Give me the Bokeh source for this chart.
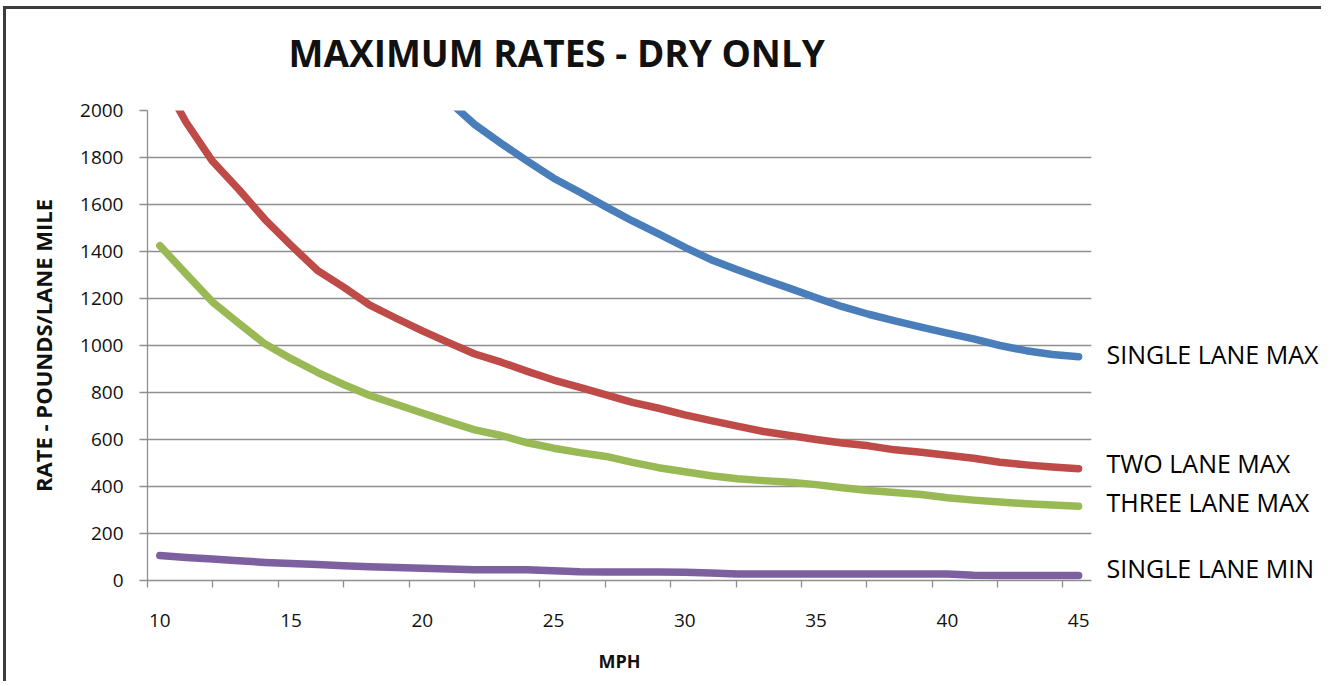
from bokeh.plotting import figure
from bokeh.models import Range1d, FixedTicker, LinearAxis
from bokeh.embed import file_html
from bokeh.resources import INLINE

# ---- data ----
mph = [10, 11, 12, 13, 14, 15, 16, 17, 18, 19, 20, 21, 22, 23, 24, 25, 26, 27,
       28, 29, 30, 31, 32, 33, 34, 35, 36, 37, 38, 39, 40, 41, 42, 43, 44, 45]

single_lane_max = [4300, 3900, 3580, 3300, 3070, 2870, 2690, 2530, 2390, 2260, 2150, 2040,
                   1940, 1860, 1785, 1712, 1652, 1590, 1530, 1475, 1418, 1365, 1322, 1282,
                   1243, 1203, 1165, 1133, 1105, 1078, 1053, 1028, 1000, 978, 962, 952]
two_lane_max = [2150, 1950, 1785, 1665, 1537, 1426, 1320, 1248, 1172, 1116, 1062, 1012,
                964, 929, 890, 853, 822, 790, 758, 733, 705, 680, 657, 634,
                617, 600, 585, 573, 556, 546, 533, 520, 503, 492, 483, 476]
three_lane_max = [1425, 1305, 1186, 1095, 1007, 944, 886, 834, 787, 750, 713, 676,
                  641, 617, 586, 563, 544, 528, 503, 480, 463, 446, 433, 425,
                  418, 408, 395, 383, 374, 366, 352, 342, 334, 327, 321, 316]
single_lane_min = [106, 98, 91, 84, 77, 72, 68, 63, 59, 55, 52, 49,
                   46, 46, 46, 41, 37, 36, 36, 36, 35, 32, 28, 28,
                   28, 28, 28, 28, 28, 28, 28, 22, 21, 21, 21, 21]

series_names = ["SINGLE LANE MAX", "TWO LANE MAX", "THREE LANE MAX", "SINGLE LANE MIN"]
series_values = [single_lane_max, two_lane_max, three_lane_max, single_lane_min]
series_colors = ["#4A7EBB", "#BE4B48", "#98B954", "#7D60A0"]
# height (in rate units) at which each series name is written on the right
series_label_at = [962, 502, 332, 55]

x_tick_labels = [10, 15, 20, 25, 30, 35, 40, 45]
x_tick_marks = [9.53, 12.02, 14.51, 17.0, 19.5, 21.99, 24.48, 26.97, 29.46,
                31.95, 34.44, 36.93, 39.42, 41.91, 44.4]
y_ticks = [0, 200, 400, 600, 800, 1000, 1200, 1400, 1600, 1800, 2000]

title_text = "MAXIMUM RATES - DRY ONLY"
title_at = 25.12   # mph position over which the title is centred
x_title = "MPH"
y_title = "RATE - POUNDS/LANE MILE"

# ---- layout constants ----
W, H = 1318, 675
FONT = "Open Sans"
GRID = "#8f8f8f"
TXT = "#111111"

p = figure(width=W, height=H, x_range=Range1d(9.53, 45.49), y_range=Range1d(0, 2000),
           output_backend="svg", toolbar_location=None,
           min_border_left=141, min_border_right=233, min_border_top=101,
           min_border_bottom=104)
p.styles = {"border-left": "3px solid #3c3c3c", "border-top": "3px solid #3c3c3c",
            "margin-left": "3px", "margin-top": "6px",
            "margin-right": "0px", "margin-bottom": "0px"}
p.background_fill_color = "white"
p.border_fill_color = "white"
p.outline_line_color = None

# title, written as the single label of an invisible top axis
title_axis = LinearAxis(ticker=FixedTicker(ticks=[title_at]),
                        major_label_overrides={title_at: title_text})
title_axis.axis_line_color = None
title_axis.major_tick_line_color = None
title_axis.minor_tick_line_color = None
title_axis.major_tick_out = 0
title_axis.major_tick_in = 0
title_axis.major_label_standoff = 33
title_axis.major_label_text_font = FONT
title_axis.major_label_text_font_style = "bold"
title_axis.major_label_text_font_size = "37px"
title_axis.major_label_text_color = TXT
p.add_layout(title_axis, "above")

# grid
p.xgrid.grid_line_color = None
p.ygrid.grid_line_color = GRID
p.ygrid.grid_line_width = 1.3
p.ygrid.ticker = FixedTicker(ticks=y_ticks)

# y axis
p.yaxis.ticker = FixedTicker(ticks=y_ticks)
p.yaxis.axis_line_color = GRID
p.yaxis.axis_line_width = 1.3
p.yaxis.major_tick_line_color = GRID
p.yaxis.major_tick_line_width = 1.3
p.yaxis.major_tick_out = 8
p.yaxis.major_tick_in = 0
p.yaxis.minor_tick_line_color = None
p.yaxis.major_label_standoff = 16
p.yaxis.major_label_text_font = FONT
p.yaxis.major_label_text_font_size = "19px"
p.yaxis.major_label_text_color = TXT
p.yaxis.axis_label = y_title
p.yaxis.axis_label_text_font = FONT
p.yaxis.axis_label_text_font_style = "bold"
p.yaxis.axis_label_text_font_size = "22px"
p.yaxis.axis_label_text_color = TXT
p.yaxis.axis_label_standoff = 19

# x axis (the first/bottom one)
xa = p.below[0]
xa.ticker = FixedTicker(ticks=x_tick_labels, minor_ticks=x_tick_marks)
xa.axis_line_color = GRID
xa.axis_line_width = 1.3
xa.major_tick_line_color = None
xa.minor_tick_line_color = GRID
xa.minor_tick_line_width = 1.3
xa.minor_tick_out = 7
xa.minor_tick_in = 0
xa.major_tick_out = 7
xa.major_tick_in = 0
xa.major_label_standoff = 26
xa.major_label_text_font = FONT
xa.major_label_text_font_size = "19px"
xa.major_label_text_color = TXT
xa.axis_label = x_title
xa.axis_label_text_font = FONT
xa.axis_label_text_font_style = "bold"
xa.axis_label_text_font_size = "18px"
xa.axis_label_text_color = TXT
xa.axis_label_standoff = 19

# series names on the right, written as an invisible right axis
names_axis = LinearAxis(ticker=FixedTicker(ticks=series_label_at),
                        major_label_overrides=dict(zip(series_label_at, series_names)))
names_axis.axis_line_color = None
names_axis.major_tick_line_color = None
names_axis.minor_tick_line_color = None
names_axis.major_tick_out = 0
names_axis.major_tick_in = 0
names_axis.major_label_standoff = 15
names_axis.major_label_text_font = FONT
names_axis.major_label_text_font_size = "25px"
names_axis.major_label_text_color = "black"
p.add_layout(names_axis, "right")

# lines
for vals, col in zip(series_values, series_colors):
    p.line(mph, vals, line_color=col, line_width=7.5, line_cap="round", line_join="round")

open("out.html", "w").write(file_html(p, INLINE))
